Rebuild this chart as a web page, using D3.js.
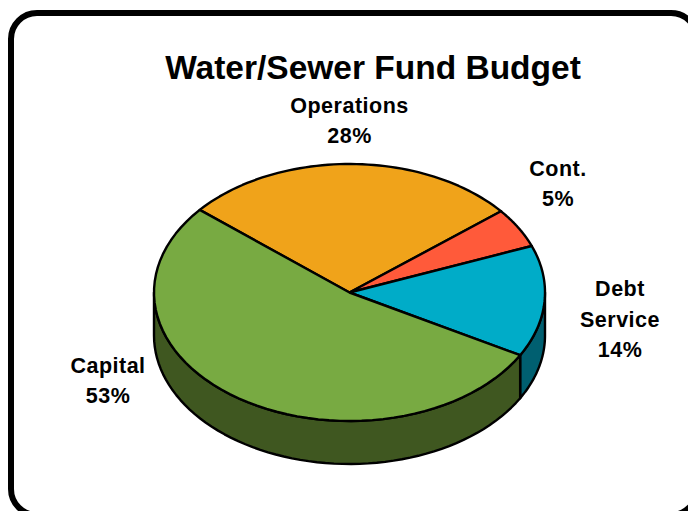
<!DOCTYPE html>
<html>
<head>
<meta charset="utf-8">
<script src="https://cdnjs.cloudflare.com/ajax/libs/d3/7.8.5/d3.min.js"></script>
<style>
  html, body { margin: 0; padding: 0; background: #fff; overflow: hidden; }
  text { font-family: "Liberation Sans", Arial, sans-serif; font-weight: bold; fill: #000; text-anchor: middle; }
</style>
</head>
<body>
<svg id="chart" width="688" height="511"></svg>
<script>
// Budget shares, clockwise from the Operations slice
const categories = ["Operations", "Cont.", "Debt Service", "Capital"];
const shares = [28, 5, 14, 53];
const topColors = ["#F0A31A", "#FF5A3A", "#00ACC8", "#78AA42"];
const wallColors = ["#785010", "#802D1D", "#005F70", "#3F5720"];
const labelLines = [["Operations", "28%"], ["Cont.", "5%"], ["Debt", "Service", "14%"], ["Capital", "53%"]];
const labelAnchors = [[349.5, 112.5], [558, 175.5], [620, 296], [108, 372.5]];
const title = "Water/Sewer Fund Budget";

const width = 688, height = 511;
const cx = 349.5, cy = 292.5, rx = 195.5, ry = 128.5, depth = 43;
const firstAngle = -50 * Math.PI / 180;

const svg = d3.select("#chart");

// Rounded panel border, running off the right and bottom of the page
svg.append("rect")
  .attr("x", 11).attr("y", 13)
  .attr("width", 686).attr("height", 502)
  .attr("rx", 26).attr("ry", 26)
  .attr("fill", "#fff").attr("stroke", "#000").attr("stroke-width", 6);

svg.append("text")
  .attr("x", 373).attr("y", 78.5)
  .attr("font-size", 33.5)
  .text(title);

// Tilted pie: angles come from d3.pie, then get squashed onto an ellipse
const pie = d3.pie().sort(null)
  .startAngle(firstAngle)
  .endAngle(firstAngle + 2 * Math.PI);
const slices = pie(shares);

const xScale = d3.scaleLinear().domain([-1, 1]).range([cx - rx, cx + rx]);
const yScale = d3.scaleLinear().domain([-1, 1]).range([cy - ry, cy + ry]);
const rimPoint = (a, drop = 0) => [xScale(Math.sin(a)), yScale(-Math.cos(a)) + drop];
const rimAngles = (a0, a1) => d3.range(0, 61).map(i => a0 + (a1 - a0) * i / 60);
const line = d3.line();

// Walls show only along the front half of the rim
const front0 = Math.PI / 2, front1 = 3 * Math.PI / 2;
const walls = slices.map((s, i) => {
  const a0 = Math.max(s.startAngle, front0), a1 = Math.min(s.endAngle, front1);
  if (a1 <= a0) return null;
  const top = rimAngles(a0, a1).map(a => rimPoint(a));
  const bottom = rimAngles(a1, a0).map(a => rimPoint(a, depth));
  return { d: line(top.concat(bottom)) + "Z", color: wallColors[i] };
}).filter(Boolean);

svg.append("g").selectAll("path").data(walls).join("path")
  .attr("d", w => w.d)
  .attr("fill", w => w.color)
  .attr("stroke", "#000").attr("stroke-width", 2.4).attr("stroke-linejoin", "round");

svg.append("g").selectAll("path").data(slices).join("path")
  .attr("d", s => line([[cx, cy]].concat(rimAngles(s.startAngle, s.endAngle).map(a => rimPoint(a)))) + "Z")
  .attr("fill", (s, i) => topColors[i])
  .attr("stroke", "#000").attr("stroke-width", 2.4).attr("stroke-linejoin", "round");

// Slice labels, one tspan per line
const labels = svg.append("g").selectAll("text").data(labelLines).join("text")
  .attr("font-size", 21.5)
  .attr("letter-spacing", 0.5)
  .attr("transform", (d, i) => `translate(${labelAnchors[i][0]},${labelAnchors[i][1]})`);
labels.selectAll("tspan").data(d => d).join("tspan")
  .attr("x", 0)
  .attr("y", (d, i) => i * 30.5)
  .text(d => d);
</script>
</body>
</html>
